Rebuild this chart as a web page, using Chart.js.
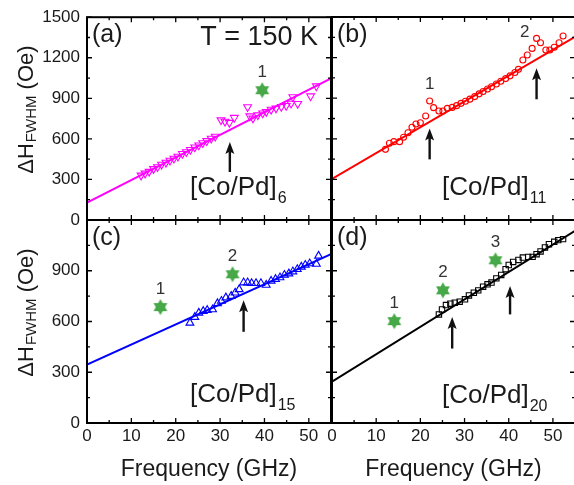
<!DOCTYPE html>
<html>
<head>
<meta charset="utf-8">
<script src="https://cdn.jsdelivr.net/npm/chart.js@4.4.1/dist/chart.umd.min.js"></script>
<style>
  body { margin: 0; background: #fff; }
  #fig { position: relative; width: 574px; height: 485px; overflow: hidden; }
  #fig canvas { position: absolute; left: 0; top: 0; }
</style>
</head>
<body>
<div id="fig">
  <canvas id="pa" width="574" height="485"></canvas>
  <canvas id="pb" width="590" height="485"></canvas>
  <canvas id="pc" width="574" height="485"></canvas>
  <canvas id="pd" width="590" height="485"></canvas>
</div>
<script>
var FONT = '"Liberation Sans", Arial, Helvetica, sans-serif';
var INK = '#1a1a1a';

// shared axes
var fitFreq = [0, 55];
var freqTicks = [0, 10, 20, 30, 40, 50];

// (a) [Co/Pd]6, T = 150 K
var freqA = [12.2, 13.1, 14.0, 15.0, 15.9, 16.8, 17.8, 18.7, 19.6, 20.5, 21.5, 22.4, 23.3, 24.3, 25.2, 26.1, 27.0, 28.0, 28.9,
             30.2, 31.1, 32.1, 33.2, 36.2, 36.7, 37.4, 38.5, 39.6, 40.4, 41.5, 42.6, 43.8, 44.9, 46.0, 46.4, 47.5, 50.4, 51.7];
var fwhmA = [330, 345, 358, 378, 392, 410, 425, 440, 455, 470, 490, 503, 520, 538, 553, 570, 585, 603, 618,
             739, 728, 720, 757, 836, 768, 752, 776, 790, 800, 817, 826, 838, 845, 862, 910, 860, 916, 990];
var fitA = [128, 1047];
var starFreqA = [39.5], starA = [960], starTextA = ['1'];
var arrowFreqA = [32.2], arrowTipA = [576], arrowTailA = [355];

// (b) [Co/Pd]11
var freqB = [12.1, 13.0, 14.0, 15.3, 16.2, 17.2, 18.1, 19.0, 20.0, 21.2, 22.1, 23.0, 24.2, 25.1, 26.1, 27.2, 28.2, 29.2, 30.2, 31.2,
             32.3, 33.3, 34.2, 35.2, 36.1, 37.2, 38.2, 39.3, 40.3, 41.4, 42.2, 43.2, 44.2, 45.3, 46.3, 47.2, 48.4, 49.3, 50.3, 51.4, 52.3];
var fwhmB = [522, 567, 579, 579, 611, 645, 685, 709, 719, 768, 879, 830, 805, 805, 825, 832, 845, 862, 878, 893,
             912, 932, 950, 968, 985, 1005, 1025, 1045, 1065, 1090, 1113, 1182, 1219, 1268, 1342, 1310, 1256, 1256, 1276, 1310, 1360];
var fitB = [303, 1354];
var labFreqB = [22.1, 43.6], labB = [966, 1354], labTextB = ['1', '2'];
var arrowFreqB = [22.1, 46.3], arrowTipB = [677, 1121], arrowTailB = [448, 892];

// (c) [Co/Pd]15
var freqC = [23.2, 24.3, 25.2, 26.2, 27.1, 28.3, 29.4, 30.3, 31.3, 32.5, 33.4, 34.3, 35.3, 36.2, 37.1, 38.1, 39.2, 40.4,
             41.5, 42.5, 43.5, 44.5, 45.5, 46.4, 47.4, 48.3, 49.2, 50.2, 51.7, 52.2];
var fwhmC = [592, 626, 651, 661, 667, 671, 707, 721, 741, 750, 770, 790, 830, 830, 826, 826, 826, 816,
             840, 850, 860, 875, 883, 895, 909, 923, 934, 943, 940, 988];
var fitC = [345, 998];
var starFreqC = [16.55, 32.8], starC = [685, 879], starTextC = ['1', '2'];
var arrowFreqC = [35.3], arrowTipC = [725], arrowTailC = [539];

// (d) [Co/Pd]20
var freqD = [24.2, 24.9, 25.8, 26.8, 27.8, 28.9, 30.1, 31.0, 32.1, 33.1, 34.2, 35.2, 36.1, 37.2, 38.3, 39.3, 40.0, 41.0,
             42.2, 43.2, 44.4, 45.4, 46.3, 47.2, 48.2, 49.1, 50.3, 51.2, 52.3];
var fwhmD = [642, 671, 697, 705, 711, 717, 731, 754, 770, 784, 806, 820, 830, 855, 875, 909, 934, 952,
             964, 978, 982, 982, 998, 1014, 1038, 1057, 1071, 1081, 1087];
var fitD = [245, 1136];
var starFreqD = [14.1, 25.1, 37.0], starD = [602, 784, 962], starTextD = ['1', '2', '3'];
var arrowFreqD = [27.2, 40.3], arrowTipD = [626, 810], arrowTailD = [440, 642];

function zip(xs, ys) {
  return xs.map(function (x, i) { return { x: x, y: ys[i] }; });
}

function makeStar(r, color) {
  var c = document.createElement('canvas');
  c.width = c.height = Math.ceil(2 * r) + 2;
  var g = c.getContext('2d'), cx = c.width / 2, cy = c.height / 2;
  g.fillStyle = color;
  [0, Math.PI].forEach(function (a0) {
    g.beginPath();
    for (var i = 0; i < 3; i++) {
      var ang = a0 - Math.PI / 2 + i * 2 * Math.PI / 3;
      g.lineTo(cx + r * Math.cos(ang), cy + r * Math.sin(ang));
    }
    g.closePath();
    g.fill();
  });
  return c;
}
var starImg = makeStar(8, '#46a846');

function subText(ctx, x, y, main, sub, size, subSize, drop) {
  ctx.font = size + 'px ' + FONT;
  ctx.fillText(main, x, y);
  var w = ctx.measureText(main).width;
  ctx.font = subSize + 'px ' + FONT;
  ctx.fillText(sub, x + w + 1, y + drop);
}

function drawPanel(chart, p) {
  var ctx = chart.ctx, a = chart.chartArea, xs = chart.scales.x, ys = chart.scales.y;
  ctx.save();

  // inward ticks on all four sides
  ctx.strokeStyle = '#000';
  ctx.lineWidth = 1.3;
  ctx.beginPath();
  for (var f = 0; f <= 55; f += 5) {
    var px = xs.getPixelForValue(f), len = f % 10 === 0 ? 5 : 3;
    ctx.moveTo(px, a.bottom); ctx.lineTo(px, a.bottom - len);
    ctx.moveTo(px, a.top); ctx.lineTo(px, a.top + len);
  }
  for (var v = 0; v <= ys.max; v += 150) {
    var py = ys.getPixelForValue(v), l2 = v % 300 === 0 ? 5 : 3;
    ctx.moveTo(a.left, py); ctx.lineTo(a.left + l2, py);
    ctx.moveTo(a.right, py); ctx.lineTo(a.right - l2, py);
  }
  ctx.stroke();
  ctx.lineWidth = 2;
  ctx.strokeRect(a.left, a.top, a.right - a.left, a.bottom - a.top);

  // arrows
  ctx.fillStyle = '#111';
  ctx.strokeStyle = '#111';
  p.arrowFreq.forEach(function (fq, i) {
    var x = xs.getPixelForValue(fq), yt = ys.getPixelForValue(p.arrowTip[i]), yb = ys.getPixelForValue(p.arrowTail[i]);
    ctx.lineWidth = 2.4;
    ctx.beginPath(); ctx.moveTo(x, yb); ctx.lineTo(x, yt + 9); ctx.stroke();
    ctx.beginPath();
    ctx.moveTo(x, yt); ctx.lineTo(x - 4.5, yt + 12); ctx.lineTo(x, yt + 9.5); ctx.lineTo(x + 4.5, yt + 12);
    ctx.closePath(); ctx.fill();
  });

  // peak numbers
  ctx.fillStyle = '#333';
  ctx.textAlign = 'center';
  ctx.font = '17px ' + FONT;
  if (p.starFreq) {
    p.starFreq.forEach(function (fq, i) {
      ctx.fillText(p.starText[i], xs.getPixelForValue(fq), ys.getPixelForValue(p.star[i]) - 13);
    });
  }
  if (p.labFreq) {
    p.labFreq.forEach(function (fq, i) {
      ctx.fillText(p.labText[i], xs.getPixelForValue(fq), ys.getPixelForValue(p.lab[i]));
    });
  }

  // panel texts
  ctx.fillStyle = INK;
  ctx.textAlign = 'left';
  ctx.font = '25px ' + FONT;
  ctx.fillText(p.letter, a.left + 5, a.top + 25);
  if (p.temp) {
    ctx.textAlign = 'right';
    ctx.font = '27px ' + FONT;
    ctx.fillText(p.temp, a.right - 13, a.top + 28);
    ctx.textAlign = 'left';
  }
  subText(ctx, a.left + p.compX, a.bottom - p.compY, '[Co/Pd]', p.n, 26, 16, 8);

  // y title with subscript
  if (p.left) {
    ctx.save();
    ctx.translate(33, (a.top + a.bottom) / 2 - 9);
    ctx.rotate(-Math.PI / 2);
    ctx.font = '22px ' + FONT;
    var w1 = ctx.measureText('\u0394H').width, w3 = ctx.measureText(' (Oe)').width;
    ctx.font = '15px ' + FONT;
    var w2 = ctx.measureText('FWHM').width;
    var x0 = -(w1 + w2 + w3 + 1) / 2;
    ctx.font = '22px ' + FONT;
    ctx.fillText('\u0394H', x0, 0);
    ctx.font = '15px ' + FONT;
    ctx.fillText('FWHM', x0 + w1 + 1, 3);
    ctx.font = '22px ' + FONT;
    ctx.fillText(' (Oe)', x0 + w1 + w2 + 1, 0);
    ctx.restore();
  }
  ctx.restore();
}

function makePanel(id, p) {
  var ds = [
    { data: zip(fitFreq, p.fit), showLine: true, borderColor: p.color, borderWidth: 2, pointRadius: 0, order: 3 },
    { data: zip(p.freq, p.fwhm), showLine: false, pointStyle: p.marker, pointRotation: p.rotation || 0,
      pointRadius: p.radius, borderColor: p.color, pointBorderColor: p.color,
      backgroundColor: 'rgba(0,0,0,0)', pointBackgroundColor: 'rgba(0,0,0,0)', pointBorderWidth: 1.1, order: 2 }
  ];
  if (p.starFreq) {
    ds.push({ data: zip(p.starFreq, p.star), showLine: false, pointStyle: starImg, pointRadius: 8, order: 1 });
  }
  var tickFont = { family: FONT, size: 17 };
  new Chart(document.getElementById(id), {
    type: 'scatter',
    data: { datasets: ds },
    options: {
      responsive: false,
      animation: false,
      events: [],
      layout: { padding: p.pad },
      plugins: { legend: { display: false }, tooltip: { enabled: false } },
      scales: {
        x: {
          type: 'linear', min: 0, max: 55, display: p.bottom,
          grid: { display: false, drawTicks: false }, border: { display: false },
          afterBuildTicks: function (s) { s.ticks = freqTicks.map(function (t) { return { value: t }; }); },
          ticks: { padding: 3, color: INK, font: tickFont, maxRotation: 0, autoSkip: false,
                   callback: function (v) { return String(v); } },
          title: { display: true, text: 'Frequency (GHz)', color: INK, font: { family: FONT, size: 23 },
                   padding: { top: 0, bottom: 2 } },
          afterFit: function (s) {
            s.height = p.bottom ? 62 : 0;
            s.paddingLeft = 0;
            s.paddingRight = 0;
          }
        },
        y: {
          type: 'linear', min: 0, max: p.ymax, position: 'left',
          grid: { display: false, drawTicks: false }, border: { display: false },
          afterBuildTicks: function (s) { s.ticks = p.yTicks.map(function (t) { return { value: t }; }); },
          ticks: { display: p.left, padding: 7, color: INK, font: tickFont,
                   callback: function (v) { return String(v); } },
          afterFit: function (s) { s.width = p.left ? 87 : 20; }
        }
      }
    },
    plugins: [{ id: 'frame', afterDatasetsDraw: function (chart) { drawPanel(chart, p); } }]
  });
}

var yTicksTop = [0, 300, 600, 900, 1200, 1500];
var yTicksBottom = [0, 300, 600, 900];

makePanel('pa', {
  freq: freqA, fwhm: fwhmA, fit: fitA, color: '#ff00ff', marker: 'triangle', rotation: 180, radius: 4.5,
  starFreq: starFreqA, star: starA, starText: starTextA,
  arrowFreq: arrowFreqA, arrowTip: arrowTipA, arrowTail: arrowTailA,
  letter: '(a)', temp: 'T = 150 K', n: '6', compX: 103, compY: 25,
  ymax: 1500, yTicks: yTicksTop, left: true, bottom: false,
  pad: { left: 0, right: 243, top: 17, bottom: 265 }
});
makePanel('pb', {
  freq: freqB, fwhm: fwhmB, fit: fitB, color: '#ff0000', marker: 'circle', radius: 3,
  labFreq: labFreqB, lab: labB, labText: labTextB,
  arrowFreq: arrowFreqB, arrowTip: arrowTipB, arrowTail: arrowTailB,
  letter: '(b)', n: '11', compX: 110, compY: 25,
  ymax: 1500, yTicks: yTicksTop, left: false, bottom: false,
  pad: { left: 312, right: 15, top: 17, bottom: 265 }
});
makePanel('pc', {
  freq: freqC, fwhm: fwhmC, fit: fitC, color: '#0000ff', marker: 'triangle', rotation: 0, radius: 4.5,
  starFreq: starFreqC, star: starC, starText: starTextC,
  arrowFreq: arrowFreqC, arrowTip: arrowTipC, arrowTail: arrowTailC,
  letter: '(c)', n: '15', compX: 103, compY: 21,
  ymax: 1200, yTicks: yTicksBottom, left: true, bottom: true,
  pad: { left: 0, right: 243, top: 220, bottom: 0 }
});
makePanel('pd', {
  freq: freqD, fwhm: fwhmD, fit: fitD, color: '#000000', marker: 'rect', radius: 3.8,
  starFreq: starFreqD, star: starD, starText: starTextD,
  arrowFreq: arrowFreqD, arrowTip: arrowTipD, arrowTail: arrowTailD,
  letter: '(d)', n: '20', compX: 110, compY: 20,
  ymax: 1200, yTicks: yTicksBottom, left: false, bottom: true,
  pad: { left: 312, right: 15, top: 220, bottom: 0 }
});
</script>
</body>
</html>
